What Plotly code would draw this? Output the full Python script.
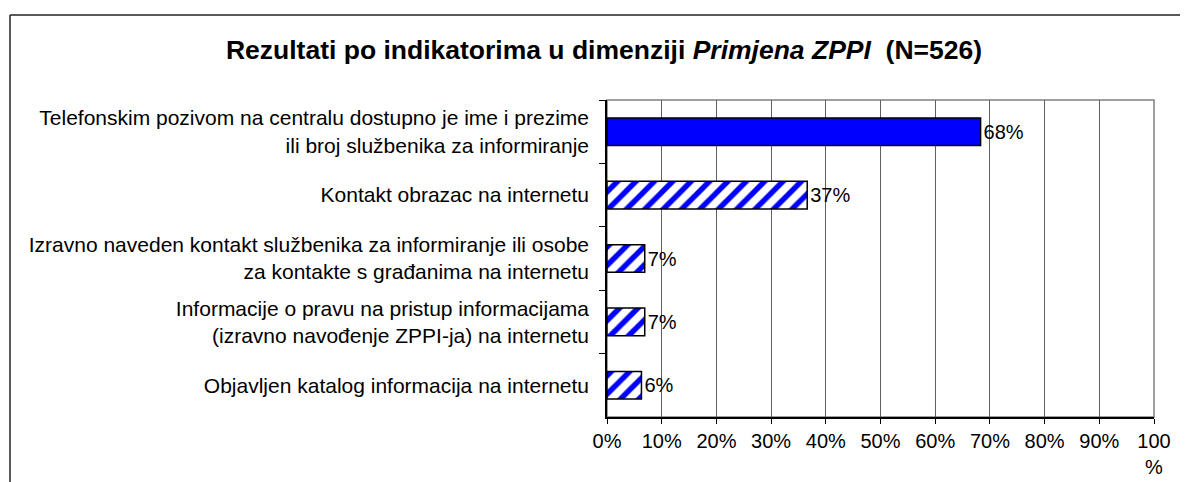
import plotly.graph_objects as go

categories = [
    "Telefonskim pozivom na centralu dostupno je ime i prezime<br>ili broj službenika za informiranje",
    "Kontakt obrazac na internetu",
    "Izravno naveden kontakt službenika za informiranje ili osobe<br>za kontakte s građanima na internetu",
    "Informacije o pravu na pristup informacijama<br>(izravno navođenje ZPPI-ja) na internetu",
    "Objavljen katalog informacija na internetu",
]
values = [68.3, 36.6, 6.9, 6.9, 6.3]
bar_patterns = ["", "/", "/", "/", "/"]
tick_vals = [0, 10, 20, 30, 40, 50, 60, 70, 80, 90, 100]
tick_text = ["0%", "10%", "20%", "30%", "40%", "50%", "60%", "70%", "80%", "90%", "100<br>%"]

FONT = "Liberation Sans, Arial, sans-serif"

# page offset (default body margin of the html page)
OFF = 8
W, H = 1188, 482
L, R, T, B = 607 - OFF, 1154 - OFF, 100 - OFF, 421 - OFF
pw, ph = R - L, B - T

def px(x):
    return (x - OFF - L) / pw

def py(y):
    return (B - (y - OFF)) / ph

fig = go.Figure()
fig.add_trace(go.Bar(
    y=categories,
    x=values,
    orientation="h",
    marker=dict(
        color="#0000FF",
        line=dict(color="black", width=1.5),
        pattern=dict(shape=bar_patterns, fgcolor="#0000FF", bgcolor="white",
                     size=13, solidity=0.42, fillmode="replace"),
    ),
    texttemplate="%{x:.0f}%",
    textposition="outside",
    textfont=dict(family=FONT, size=20, color="black"),
    cliponaxis=False,
    showlegend=False,
))

shapes = [
    dict(type="rect", xref="paper", yref="paper", x0=0, x1=1, y0=0, y1=1,
         line=dict(color="#808080", width=1.5), layer="below"),
    dict(type="line", xref="paper", yref="paper", x0=px(10), x1=px(1230),
         y0=py(14), y1=py(14), line=dict(color="#222222", width=1.5)),
    dict(type="line", xref="paper", yref="paper", x0=px(10), x1=px(10),
         y0=py(14), y1=py(520), line=dict(color="#222222", width=1.5)),
]

fig.update_layout(
    width=W, height=H,
    margin=dict(l=L, r=W - R, t=T, b=H - B, pad=0),
    paper_bgcolor="white",
    plot_bgcolor="white",
    font=dict(family=FONT, size=20, color="black"),
    title=dict(
        text="<b>Rezultati po indikatorima u dimenziji <i>Primjena ZPPI</i>  (N=526)</b>",
        x=(604 - OFF) / W, xref="container", xanchor="center",
        y=1 - (50 - OFF) / H, yref="container", yanchor="middle",
        font=dict(family=FONT, size=26.5, color="black"),
    ),
    bargap=0.565,
    shapes=shapes,
)

fig.update_xaxes(
    range=[0, 100],
    tickvals=tick_vals,
    ticktext=tick_text,
    showgrid=True, gridcolor="#606060", gridwidth=1,
    showline=True, linecolor="black", linewidth=1.5,
    ticks="outside", ticklen=5, tickcolor="black", tickwidth=1,
    tickfont=dict(family=FONT, size=20, color="black"),
    zeroline=False,
    fixedrange=True,
)
fig.update_yaxes(
    autorange="reversed",
    showline=True, linecolor="black", linewidth=1.5,
    ticks="outside", ticklen=6, tickcolor="black", tickwidth=1,
    tickson="boundaries",
    ticklabelstandoff=12,
    tickfont=dict(family=FONT, size=21, color="black"),
    showgrid=False,
    fixedrange=True,
)

fig.write_html("out.html")
